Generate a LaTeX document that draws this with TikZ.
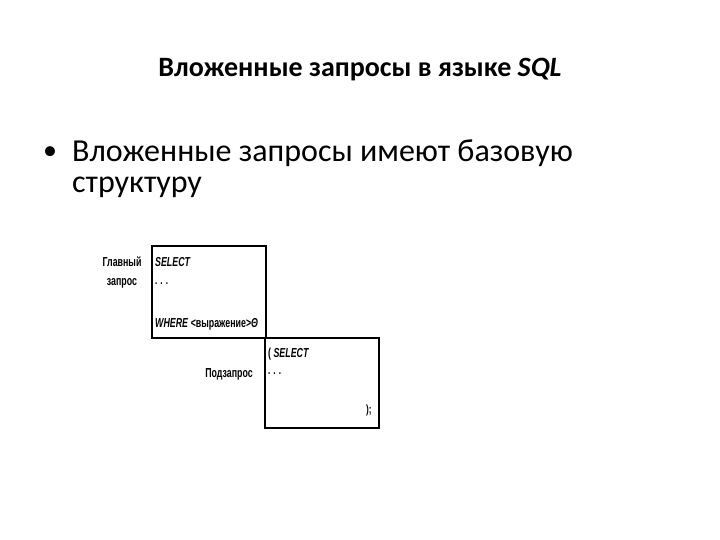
\documentclass[tikz,border=0pt]{standalone}
\usepackage{fontspec}
\setmainfont{Carlito}
\newfontfamily\narrowf[FakeStretch=0.68]{Liberation Sans}
\begin{document}
\begin{tikzpicture}[x=1pt,y=-1pt,
  lbl/.style={font=\narrowf\bfseries\fontsize{13}{14}\selectfont, inner sep=0pt},
  code/.style={font=\narrowf\bfseries\itshape\fontsize{13}{14}\selectfont, inner sep=0pt, anchor=west},
  dots/.style={font=\narrowf\bfseries\fontsize{12}{14}\selectfont, inner sep=0pt, anchor=west},
  box/.style={draw, line width=1.3pt}]
\useasboundingbox (0,0) rectangle (720,540);
\node[font=\bfseries\fontsize{28}{32}\selectfont] (title) at (360,70) {Вложенные запросы в языке \textit{SQL}};
\node[anchor=west, font=\fontsize{28}{38}\selectfont, inner sep=0pt] (bul) at (43,153) {•};
\node[anchor=west, font=\fontsize{32}{38}\selectfont, inner sep=0pt, align=left] (body) at (72,153) {Вложенные запросы имеют базовую};
\node[anchor=west, font=\fontsize{32}{38}\selectfont, inner sep=0pt, align=left] (body2) at (72,187) {структуру};
\draw[box] (152,246) rectangle (266,338);
\draw[box] (265,338) rectangle (379,428);
\node[lbl] (main) at (122,262) {Главный};
\node[lbl] (main2) at (122,283) {запрос};
\node[code] (s1) at (155,262) {SELECT};
\node[dots] (d1) at (155,284) {. . .};
\node[code] (w1) at (155,324) {WHERE \textup{<выражение>}Θ};
\node[code] (s2) at (268,354) {\textup{(} SELECT};
\node[dots] (d2) at (268,374) {. . .};
\node[dots] (e2) at (366,410) {);};
\node[lbl] (sub) at (229,374) {Подзапрос};
\end{tikzpicture}
\end{document}
